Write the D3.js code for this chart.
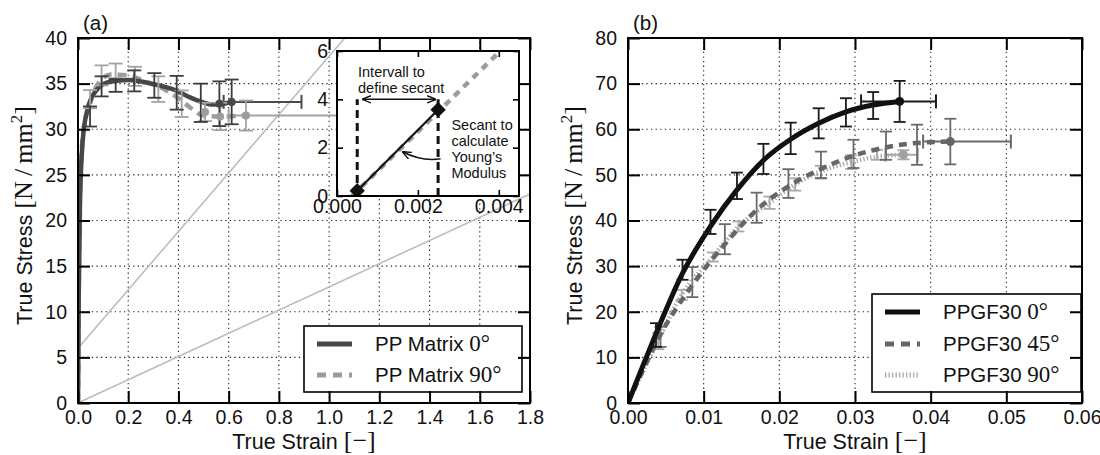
<!DOCTYPE html>
<html><head><meta charset="utf-8">
<script src="https://cdn.jsdelivr.net/npm/d3@7"></script>
<style>body{margin:0;background:#fff}svg{display:block}</style>
</head><body><svg id="c" width="1100" height="455"></svg>
<script>
// ---------------- DATA ----------------
// Panel (a): PP Matrix
const aXTicks = [0, 0.2, 0.4, 0.6, 0.8, 1.0, 1.2, 1.4, 1.6, 1.8];
const aXLabels = ["0.0","0.2","0.4","0.6","0.8","1.0","1.2","1.4","1.6","1.8"];
const aYTicks = [0, 5, 10, 15, 20, 25, 30, 35, 40];
const aYLabels = ["0","5","10","15","20","25","30","35","40"];

const a0Strain = [0, 0.003, 0.008, 0.019, 0.037, 0.074, 0.127, 0.2, 0.307, 0.386, 0.446, 0.493, 0.539, 0.58, 0.612];
const a0Stress = [0, 12, 22, 28.8, 32.1, 34.3, 35.2, 35.4, 34.9, 34.3, 33.5, 33.0, 32.7, 32.8, 33.0];
const a90Strain = [0, 0.003, 0.008, 0.02, 0.045, 0.08, 0.13, 0.2, 0.27, 0.32, 0.4, 0.45, 0.5, 0.566, 0.669];
const a90Stress = [0, 12, 23, 29.5, 32.5, 35, 36.0, 35.9, 35.2, 34.7, 33.4, 32.3, 31.5, 31.4, 31.5];

const a0ErrStrain = [0.048, 0.094, 0.150, 0.224, 0.304, 0.393, 0.489, 0.563, 0.612];
const a0ErrStress = [31.4, 34.7, 34.8, 35.3, 34.8, 34.0, 32.9, 32.8, 33.0];
const a0ErrSize   = [1.1, 1.1, 0.7, 1.15, 1.35, 1.85, 2.1, 2.45, 2.45];
const a0LastStrainRange = [0.58, 0.89];
const a90ErrStrain = [0.048, 0.094, 0.150, 0.227, 0.32, 0.413, 0.506, 0.566, 0.669];
const a90ErrStress = [33.3, 35.9, 36.4, 35.8, 34.4, 32.8, 31.9, 31.4, 31.5];
const a90ErrSize   = [1.0, 1.1, 0.8, 1.05, 1.4, 1.45, 1.0, 1.5, 1.65];
const a90LastStrainRange = [0.6, 1.1];

// thin secant guide lines in panel (a)
const aGuideStrain = [0, 1.8];
const aGuide1Stress = [6, 63.6];
const aGuide2Stress = [0, 22.9];

// Inset of panel (a)
const inXTicks = [0, 0.002, 0.004];
const inXLabels = ["0.000", "0.002", "0.004"];
const inYTicks = [0, 2, 4, 6];
const inYLabels = ["0", "2", "4", "6"];
const inCurveStrain = [0.00037, 0.0041];
const inCurveStress = [0, 6.1];
const inSecantStrain = [0.0005, 0.0025];
const inSecantStress = [0.22, 3.57];
const inIntervalTop = 4.0;
const inArrowStrain = [0.00064, 0.00243];

// Panel (b): PPGF30
const bXTicks = [0, 0.01, 0.02, 0.03, 0.04, 0.05, 0.06];
const bXLabels = ["0.00","0.01","0.02","0.03","0.04","0.05","0.06"];
const bYTicks = [0, 10, 20, 30, 40, 50, 60, 70, 80];
const bYLabels = ["0","10","20","30","40","50","60","70","80"];

const b0Strain = [0, 0.002, 0.0037, 0.0072, 0.0109, 0.0144, 0.0179, 0.0215, 0.0252, 0.0288, 0.0324, 0.0359];
const b0Stress = [0, 8.3, 15.2, 28.4, 38.7, 46.7, 53.2, 57.8, 61.3, 63.8, 65.3, 66.1];
const b45Strain = [0, 0.002, 0.0043, 0.0085, 0.0128, 0.017, 0.0212, 0.0255, 0.0298, 0.034, 0.0382, 0.0426];
const b45Stress = [0, 7.3, 15.0, 25.8, 34.8, 42.3, 47.5, 51.3, 54.2, 56.0, 57.0, 57.3];
const b90Strain = [0, 0.002, 0.004, 0.0071, 0.0112, 0.0146, 0.0187, 0.0221, 0.0255, 0.0295, 0.0329, 0.0364];
const b90Stress = [0, 7, 13.8, 23.7, 32, 38.7, 43.9, 47.9, 50.8, 52.8, 54.0, 54.4];

const b0ErrStrain = [0.0037, 0.0072, 0.0109, 0.0144, 0.0179, 0.0215, 0.0252, 0.0288, 0.0324, 0.0359];
const b0ErrStress = [14.9, 29.2, 39.7, 47.6, 53.5, 58.0, 61.3, 63.7, 65.2, 66.1];
const b0ErrSize   = [2.6, 2.2, 2.65, 2.9, 3.3, 3.45, 3.3, 3.1, 2.95, 4.5];
const b0LastStrainRange = [0.0308, 0.0407];
const b45ErrStrain = [0.0043, 0.0085, 0.0128, 0.017, 0.0212, 0.0255, 0.0298, 0.0341, 0.0382, 0.0426];
const b45ErrStress = [14.5, 26.5, 35.9, 42.8, 48.1, 52.2, 54.6, 56.4, 56.6, 57.3];
const b45ErrSize   = [2.2, 3.3, 3.3, 3.3, 3.15, 2.9, 3.1, 3.1, 4.4, 5.0];
const b45LastStrainRange = [0.0390, 0.0506];
const b90ErrStrain = [0.004, 0.0071, 0.0112, 0.0146, 0.0187, 0.0221, 0.0255, 0.0295, 0.0329, 0.0364];
const b90ErrStress = [13.6, 23.7, 32.0, 38.7, 43.9, 47.9, 50.6, 52.8, 54.4, 54.4];
const b90ErrSize   = [1.8, 1.1, 1.0, 1.1, 1.35, 1.35, 1.4, 1.5, 1.1, 1.0];
const b90LastStrainRange = [0.0340, 0.0383];

// ---------------- DRAWING ----------------
const FONT = '"Liberation Sans", Arial, Helvetica, sans-serif';
const SERIF = '"Liberation Serif", "DejaVu Serif", serif';
const TICK_FS = 19.5, LABEL_FS = 21.5, SERIF_FS = 26;
const svg = d3.select('#c');
const defs = svg.append('defs');
defs.append('marker').attr('id','arr').attr('viewBox','0 0 10 10').attr('refX',9).attr('refY',5)
  .attr('markerWidth',9).attr('markerHeight',9).attr('markerUnits','userSpaceOnUse')
  .attr('orient','auto-start-reverse')
  .append('path').attr('d','M0,1 L10,5 L0,9').attr('fill','none').attr('stroke','#111').attr('stroke-width',1.6);

function makePanel(o) {
  const x = d3.scaleLinear().domain(o.xd).range([o.l, o.r]);
  const y = d3.scaleLinear().domain(o.yd).range([o.b, o.t]);
  const g = svg.append('g');
  defs.append('clipPath').attr('id', 'clip' + o.name).append('rect')
    .attr('x', o.l).attr('y', o.t).attr('width', o.r - o.l).attr('height', o.b - o.t);
  const grid = g.append('g').attr('stroke', '#222').attr('stroke-width', 1.1).attr('stroke-dasharray', '1.3,3.3');
  grid.selectAll('.gx').data(o.xt.slice(1, -1)).join('line')
    .attr('x1', d => x(d)).attr('x2', d => x(d)).attr('y1', o.t).attr('y2', o.b);
  grid.selectAll('.gy').data(o.yt.slice(1, -1)).join('line')
    .attr('y1', d => y(d)).attr('y2', d => y(d)).attr('x1', o.l).attr('x2', o.r);
  const plot = g.append('g').attr('clip-path', `url(#clip${o.name})`);
  return {x, y, g, plot};
}

function finishPanel(P, o) {
  const {x, y, g} = P;
  const style = sel => {
    sel.select('.domain').remove();
    sel.selectAll('.tick line').attr('stroke', '#000').attr('stroke-width', 2);
    sel.selectAll('.tick text').attr('font-family', FONT).attr('font-size', TICK_FS).attr('fill', '#111');
  };
  g.append('g').attr('transform', `translate(0,${o.b})`)
    .call(d3.axisBottom(x).tickValues(o.xt).tickFormat((d, i) => o.xl[i]).tickSizeInner(-12).tickSizeOuter(0).tickPadding(7)).call(style);
  g.append('g').attr('transform', `translate(0,${o.t})`)
    .call(d3.axisTop(x).tickValues(o.xt).tickFormat('').tickSizeInner(-12).tickSizeOuter(0)).call(style);
  g.append('g').attr('transform', `translate(${o.l},0)`)
    .call(d3.axisLeft(y).tickValues(o.yt).tickFormat((d, i) => o.yl[i]).tickSizeInner(-12).tickSizeOuter(0).tickPadding(11)).call(style);
  g.append('g').attr('transform', `translate(${o.r},0)`)
    .call(d3.axisRight(y).tickValues(o.yt).tickFormat('').tickSizeInner(-12).tickSizeOuter(0)).call(style);
  g.append('rect').attr('x', o.l).attr('y', o.t).attr('width', o.r - o.l).attr('height', o.b - o.t)
    .attr('fill', 'none').attr('stroke', '#000').attr('stroke-width', 2);
  g.append('text').attr('x', o.l + 5).attr('y', 30).attr('font-family', FONT).attr('font-size', 20.5).attr('fill', '#111').text(o.title);
  const xl = g.append('text').attr('x', (o.l + o.r) / 2).attr('y', 449).attr('text-anchor', 'middle')
    .attr('font-family', FONT).attr('font-size', LABEL_FS).attr('fill', '#111');
  xl.append('tspan').text('True Strain ');
  xl.append('tspan').attr('font-family', SERIF).attr('font-size', SERIF_FS).text('[\u2212]');
  const yl = g.append('text').attr('transform', `translate(${o.l - 46},${(o.t + o.b) / 2 - 5}) rotate(-90)`)
    .attr('text-anchor', 'middle').attr('font-family', FONT).attr('font-size', LABEL_FS).attr('fill', '#111');
  yl.append('tspan').text('True Stress ');
  yl.append('tspan').attr('font-family', SERIF).attr('font-size', SERIF_FS).text('[N\u2009/\u2009mm');
  yl.append('tspan').attr('font-family', SERIF).attr('font-size', 17).attr('dy', -10).text('2');
  yl.append('tspan').attr('font-family', SERIF).attr('font-size', SERIF_FS).attr('dy', 10).text(']');
}

function curve(P, xs, ys, color, width, dash) {
  const line = d3.line().x(d => P.x(d[0])).y(d => P.y(d[1])).curve(d3.curveMonotoneX);
  P.plot.append('path').datum(d3.zip(xs, ys)).attr('d', line).attr('fill', 'none')
    .attr('stroke', color).attr('stroke-width', width).attr('stroke-dasharray', dash || null)
    .attr('stroke-linecap', 'butt');
}

function errorBars(P, xs, ys, ds, color, cap, w) {
  const g = P.plot.append('g').attr('stroke', color).attr('stroke-width', w);
  xs.forEach((xv, i) => {
    const cx = P.x(xv), y1 = P.y(ys[i] - ds[i]), y2 = P.y(ys[i] + ds[i]);
    g.append('line').attr('x1', cx).attr('x2', cx).attr('y1', y1).attr('y2', y2);
    g.append('line').attr('x1', cx - cap).attr('x2', cx + cap).attr('y1', y1).attr('y2', y1);
    g.append('line').attr('x1', cx - cap).attr('x2', cx + cap).attr('y1', y2).attr('y2', y2);
  });
}

function xErrorBar(P, range, yv, color, cap, w) {
  const g = P.plot.append('g').attr('stroke', color).attr('stroke-width', w);
  const cy = P.y(yv);
  g.append('line').attr('x1', P.x(range[0])).attr('x2', P.x(range[1])).attr('y1', cy).attr('y2', cy);
  range.forEach(r => g.append('line').attr('x1', P.x(r)).attr('x2', P.x(r)).attr('y1', cy - cap).attr('y2', cy + cap));
}

function marker(P, xv, yv, color, r) {
  P.plot.append('circle').attr('cx', P.x(xv)).attr('cy', P.y(yv)).attr('r', r).attr('fill', color);
}

function legend(g, box, items) {
  g.append('rect').attr('x', box[0]).attr('y', box[1]).attr('width', box[2]).attr('height', box[3])
    .attr('fill', '#fff').attr('stroke', '#000').attr('stroke-width', 1.6);
  items.forEach(it => {
    const yy = box[1] + it.dy;
    g.append('line').attr('x1', box[0] + 13).attr('x2', box[0] + 48).attr('y1', yy).attr('y2', yy)
      .attr('stroke', it.color).attr('stroke-width', it.w).attr('stroke-dasharray', it.dash || null);
    const t = g.append('text').attr('x', box[0] + 71).attr('y', yy + 7).attr('font-family', FONT)
      .attr('font-size', 20.5).attr('fill', '#111');
    t.append('tspan').text(it.label + ' ');
    t.append('tspan').attr('font-family', SERIF).attr('font-size', 23).text(it.deg);
  });
}

// ---- Panel (a)
const oA = {name: 'A', l: 78, r: 530, t: 38, b: 403, xd: [0, 1.8], yd: [0, 40],
  xt: aXTicks, xl: aXLabels, yt: aYTicks, yl: aYLabels, title: '(a)'};
const PA = makePanel(oA);
[aGuide1Stress, aGuide2Stress].forEach(s =>
  PA.plot.append('line').attr('x1', PA.x(aGuideStrain[0])).attr('x2', PA.x(aGuideStrain[1]))
    .attr('y1', PA.y(s[0])).attr('y2', PA.y(s[1])).attr('stroke', '#bdbdbd').attr('stroke-width', 1.6));
xErrorBar(PA, a90LastStrainRange, a90ErrStress[a90ErrStress.length - 1], '#a3a3a3', 7, 2);
xErrorBar(PA, a0LastStrainRange, a0ErrStress[a0ErrStress.length - 1], '#4a4a4a', 7, 2);
curve(PA, a90Strain, a90Stress, '#9c9c9c', 4.5, '9,6');
curve(PA, a0Strain, a0Stress, '#474747', 4.5);
errorBars(PA, a90ErrStrain, a90ErrStress, a90ErrSize, '#a3a3a3', 7, 1.8);
errorBars(PA, a0ErrStrain, a0ErrStress, a0ErrSize, '#3c3c3c', 7, 1.8);
a90ErrStrain.slice(-3).forEach((v, i) => marker(PA, v, a90ErrStress.slice(-3)[i], '#9c9c9c', 4));
a0ErrStrain.slice(-2).forEach((v, i) => marker(PA, v, a0ErrStress.slice(-2)[i], '#474747', 4));

// Inset
const oI = {l: 337, r: 519, t: 51, b: 196};
const ix = d3.scaleLinear().domain([0, 0.0045]).range([oI.l, oI.r]);
const iy = d3.scaleLinear().domain([0, 6]).range([oI.b, oI.t]);
const gi = svg.append('g');
gi.append('rect').attr('x', oI.l).attr('y', oI.t).attr('width', oI.r - oI.l).attr('height', oI.b - oI.t).attr('fill', '#fff');
defs.append('clipPath').attr('id', 'clipI').append('rect').attr('x', oI.l).attr('y', oI.t).attr('width', oI.r - oI.l).attr('height', oI.b - oI.t);
const gic = gi.append('g').attr('clip-path', 'url(#clipI)');
gic.append('line').attr('x1', ix(inCurveStrain[0])).attr('x2', ix(inCurveStrain[1]))
  .attr('y1', iy(inCurveStress[0])).attr('y2', iy(inCurveStress[1]))
  .attr('stroke', '#9c9c9c').attr('stroke-width', 4.5).attr('stroke-dasharray', '7,6');
inSecantStrain.forEach(v => gic.append('line').attr('x1', ix(v)).attr('x2', ix(v)).attr('y1', iy(0)).attr('y2', iy(inIntervalTop))
  .attr('stroke', '#111').attr('stroke-width', 3).attr('stroke-dasharray', '8,5'));
gic.append('line').attr('x1', ix(inSecantStrain[0])).attr('x2', ix(inSecantStrain[1]))
  .attr('y1', iy(inSecantStress[0])).attr('y2', iy(inSecantStress[1])).attr('stroke', '#111').attr('stroke-width', 2.2);
inSecantStrain.forEach((v, i) => gic.append('path')
  .attr('d', d3.symbol(d3.symbolDiamond2, 150)()).attr('transform', `translate(${ix(v)},${iy(inSecantStress[i])})`).attr('fill', '#111'));
gi.append('line').attr('x1', ix(inArrowStrain[0])).attr('x2', ix(inArrowStrain[1])).attr('y1', iy(inIntervalTop)).attr('y2', iy(inIntervalTop))
  .attr('stroke', '#111').attr('stroke-width', 1.5).attr('marker-start', 'url(#arr)').attr('marker-end', 'url(#arr)');
gi.append('path').attr('d', `M${ix(0.00256)},${iy(1.54)} Q${ix(0.0021)},${iy(1.42)} ${ix(0.00163)},${iy(1.82)}`)
  .attr('fill', 'none').attr('stroke', '#111').attr('stroke-width', 1.5).attr('marker-end', 'url(#arr)');
const annot = [
  {t: 'Intervall to', x: 0.00052, y: 4.93}, {t: 'define secant', x: 0.00052, y: 4.27},
  {t: 'Secant to', x: 0.00283, y: 2.75}, {t: 'calculate', x: 0.00283, y: 2.07},
  {t: 'Young\u2019s', x: 0.00283, y: 1.40}, {t: 'Modulus', x: 0.00283, y: 0.73}];
gi.selectAll('.an').data(annot).join('text').attr('x', d => ix(d.x)).attr('y', d => iy(d.y))
  .attr('font-family', FONT).attr('font-size', 14.5).attr('fill', '#111').text(d => d.t);
const istyle = sel => {
  sel.select('.domain').remove();
  sel.selectAll('.tick line').attr('stroke', '#000').attr('stroke-width', 1.6);
  sel.selectAll('.tick text').attr('font-family', FONT).attr('font-size', TICK_FS).attr('fill', '#111');
};
gi.append('g').attr('transform', `translate(0,${oI.b})`).call(d3.axisBottom(ix).tickValues(inXTicks).tickFormat((d, i) => inXLabels[i]).tickSizeInner(-6).tickSizeOuter(0).tickPadding(3)).call(istyle);
gi.append('g').attr('transform', `translate(0,${oI.t})`).call(d3.axisTop(ix).tickValues(inXTicks).tickFormat('').tickSizeInner(-6).tickSizeOuter(0)).call(istyle);
gi.append('g').attr('transform', `translate(${oI.l},0)`).call(d3.axisLeft(iy).tickValues(inYTicks).tickFormat((d, i) => inYLabels[i]).tickSizeInner(-6).tickSizeOuter(0).tickPadding(9)).call(istyle);
gi.append('g').attr('transform', `translate(${oI.r},0)`).call(d3.axisRight(iy).tickValues(inYTicks).tickFormat('').tickSizeInner(-6).tickSizeOuter(0)).call(istyle);
gi.append('rect').attr('x', oI.l).attr('y', oI.t).attr('width', oI.r - oI.l).attr('height', oI.b - oI.t)
  .attr('fill', 'none').attr('stroke', '#000').attr('stroke-width', 2);

legend(PA.g, [304, 326, 218, 66], [
  {label: 'PP Matrix', deg: '0\u00b0', color: '#474747', w: 5, dy: 18},
  {label: 'PP Matrix', deg: '90\u00b0', color: '#9c9c9c', w: 5, dash: '9,7', dy: 49}]);
finishPanel(PA, oA);

// ---- Panel (b)
const oB = {name: 'B', l: 628, r: 1082, t: 38, b: 403, xd: [0, 0.06], yd: [0, 80],
  xt: bXTicks, xl: bXLabels, yt: bYTicks, yl: bYLabels, title: '(b)'};
const PB = makePanel(oB);
xErrorBar(PB, b90LastStrainRange, b90ErrStress[b90ErrStress.length - 1], '#a8a8a8', 7, 2);
xErrorBar(PB, b45LastStrainRange, b45ErrStress[b45ErrStress.length - 1], '#6a6a6a', 7, 2);
xErrorBar(PB, b0LastStrainRange, b0ErrStress[b0ErrStress.length - 1], '#1a1a1a', 7, 2);
errorBars(PB, b90ErrStrain, b90ErrStress, b90ErrSize, '#a8a8a8', 6, 1.8);
errorBars(PB, b45ErrStrain, b45ErrStress, b45ErrSize, '#6a6a6a', 6, 1.8);
curve(PB, b90Strain, b90Stress, '#a8a8a8', 4.5, '1.3,2.2');
curve(PB, b45Strain, b45Stress, '#666', 4.5, '8,6');
curve(PB, b0Strain, b0Stress, '#111', 5);
errorBars(PB, b0ErrStrain, b0ErrStress, b0ErrSize, '#1a1a1a', 6, 1.8);
marker(PB, b90ErrStrain[b90ErrStrain.length - 1], b90ErrStress[b90ErrStress.length - 1], '#a0a0a0', 4.5);
marker(PB, b45ErrStrain[b45ErrStrain.length - 1], b45ErrStress[b45ErrStress.length - 1], '#666', 4.5);
marker(PB, b0ErrStrain[b0ErrStrain.length - 1], b0ErrStress[b0ErrStress.length - 1], '#111', 4.5);
legend(PB.g, [872, 294, 209, 98], [
  {label: 'PPGF30', deg: '0\u00b0', color: '#111', w: 5, dy: 18},
  {label: 'PPGF30', deg: '45\u00b0', color: '#666', w: 5, dash: '9,7', dy: 50},
  {label: 'PPGF30', deg: '90\u00b0', color: '#a8a8a8', w: 5, dash: '1.3,2.2', dy: 81}]);
finishPanel(PB, oB);
</script></body></html>
